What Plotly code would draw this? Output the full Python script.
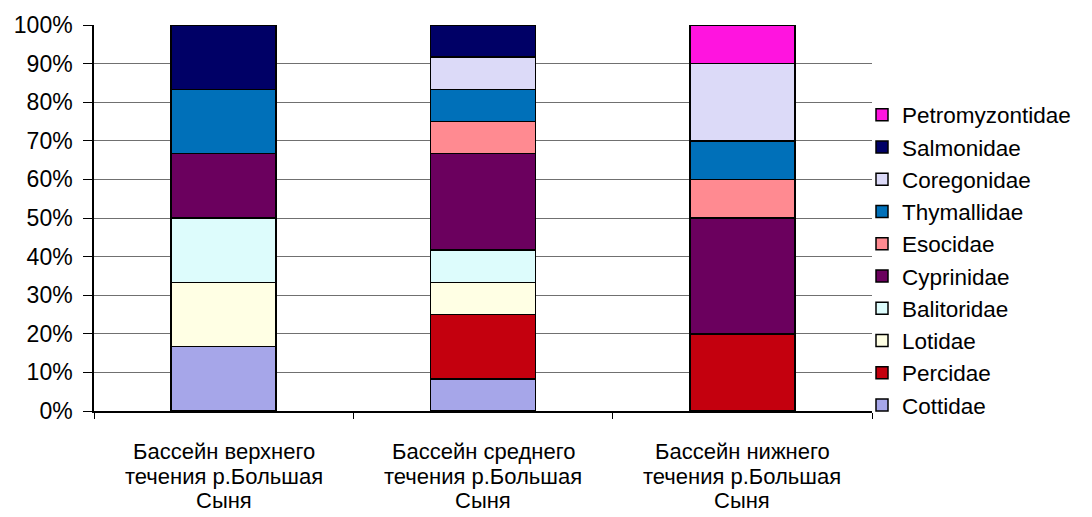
import plotly.graph_objects as go

categories = [
    "Бассейн верхнего\nтечения р.Большая\nСыня",
    "Бассейн среднего\nтечения р.Большая\nСыня",
    "Бассейн нижнего\nтечения р.Большая\nСыня",
]

families = ["Cottidae", "Percidae", "Lotidae", "Balitoridae", "Cyprinidae",
            "Esocidae", "Thymallidae", "Coregonidae", "Salmonidae", "Petromyzontidae"]

# share of species (%) per family in each basin
cottidae = [16.67, 8.33, 0]
percidae = [0, 16.67, 20]
lotidae = [16.67, 8.33, 0]
balitoridae = [16.67, 8.33, 0]
cyprinidae = [16.67, 25.0, 30]
esocidae = [0, 8.33, 10]
thymallidae = [16.67, 8.33, 10]
coregonidae = [0, 8.33, 20]
salmonidae = [16.66, 8.35, 0]
petromyzontidae = [0, 0, 10]

values = [cottidae, percidae, lotidae, balitoridae, cyprinidae,
          esocidae, thymallidae, coregonidae, salmonidae, petromyzontidae]

colors = ["#A6A6E9", "#C4000E", "#FFFFE4", "#DDFCFC", "#6B005E",
          "#FF8A91", "#0070B9", "#DCDAF8", "#000066", "#FF14DF"]

y_ticks = [0, 10, 20, 30, 40, 50, 60, 70, 80, 90, 100]

FONT = "Liberation Sans, Arial, sans-serif"

fig = go.Figure()
for name, vals, col in zip(families, values, colors):
    fig.add_trace(go.Bar(
        x=categories, y=vals, name=name,
        marker=dict(color=col, line=dict(color="black", width=1.5)),
    ))

# category labels as stacked line annotations (tight line spacing)
for cat in categories:
    for i, line in enumerate(cat.split("\n")):
        fig.add_annotation(
            x=cat, xref="x", y=0, yref="paper",
            text=line, showarrow=False,
            xanchor="center", yanchor="middle",
            yshift=-(40.5 + i * 24.7),
            font=dict(family=FONT, size=22, color="black"),
        )

fig.update_layout(
    width=1092, height=517,
    margin=dict(l=94, r=220, t=25, b=106),
    paper_bgcolor="white", plot_bgcolor="white",
    barmode="stack", bargap=0.595,
    font=dict(family=FONT, color="black"),
    showlegend=True,
    legend=dict(
        traceorder="reversed",
        x=(862 - 94) / (872 - 94), xanchor="left",
        y=(411 - 260) / 386, yanchor="middle",
        font=dict(family=FONT, size=22.5, color="black"),
        bgcolor="rgba(0,0,0,0)",
    ),
)

fig.update_xaxes(
    type="category",
    showticklabels=False,
    tickson="boundaries", ticks="outside", ticklen=6, tickcolor="black", tickwidth=1,
    showline=True, linecolor="black", linewidth=1.5,
    showgrid=False,
)
fig.update_yaxes(
    range=[0, 100],
    tickvals=y_ticks, ticktext=[f"{v}%" for v in y_ticks],
    ticks="outside", ticklen=9, tickcolor="black", tickwidth=1,
    ticklabelstandoff=6,
    tickfont=dict(family=FONT, size=23, color="black"),
    showline=True, linecolor="black", linewidth=1.5,
    showgrid=True, gridcolor="#707070", gridwidth=1.2,
    zeroline=False,
)

fig.write_html("out.html")
